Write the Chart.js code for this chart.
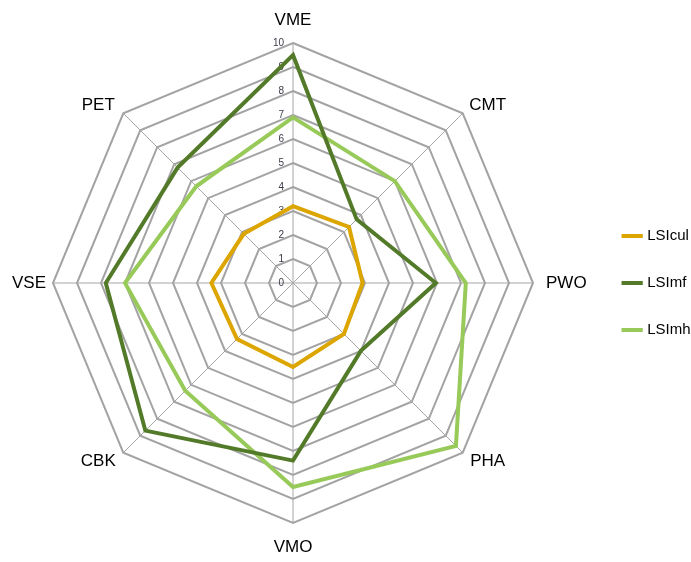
<!DOCTYPE html>
<html>
<head>
<meta charset="utf-8">
<script src="https://cdn.jsdelivr.net/npm/chart.js@4/dist/chart.umd.min.js"></script>
<style>
  html, body { margin: 0; padding: 0; background: #fff; }
  #wrap { width: 691px; height: 562px; }
</style>
</head>
<body>
<div id="wrap"><canvas id="radar"></canvas></div>
<script>
const categorias = ['VME', 'CMT', 'PWO', 'PHA', 'VMO', 'CBK', 'VSE', 'PET']
const lsiCul = [3.2, 3.3, 2.9, 3.0, 3.5, 3.3, 3.4, 2.9]
const lsiMf = [9.5, 3.75, 5.95, 4.0, 7.4, 8.7, 7.8, 6.8]
const lsiMh = [6.9, 6.0, 7.2, 9.6, 8.5, 6.35, 7.0, 5.7]
const escalaMin = 0
const escalaMax = 10

const fonte = '"Liberation Sans", Arial, sans-serif'

// rótulos da escala à esquerda do eixo vertical + rótulos das categorias estilo Excel
const rotulos = {
  id: 'rotulos',
  beforeDatasetsDraw(chart) {
    const scale = chart.scales.r
    const ctx = chart.ctx
    ctx.save()
    ctx.font = '10px ' + fonte
    ctx.fillStyle = '#3a3a4a'
    ctx.textAlign = 'right'
    ctx.textBaseline = 'middle'
    scale.ticks.forEach(t => {
      const d = scale.getDistanceFromCenterForValue(t.value)
      const p = scale.getPointPosition(0, d)
      ctx.fillText(String(t.value), p.x - 9, p.y)
    })

    ctx.font = '17px ' + fonte
    ctx.fillStyle = '#000'
    const R = scale.drawingArea
    chart.data.labels.forEach((lab, i) => {
      const v = scale.getPointPosition(i, R)
      const dx = v.x - scale.xCenter
      const dy = v.y - scale.yCenter
      let x = v.x, y = v.y
      if (Math.abs(dx) < 1) {
        ctx.textAlign = 'center'
        y += dy < 0 ? -23 : 24
      } else if (Math.abs(dy) < 1) {
        if (dx > 0) { ctx.textAlign = 'left'; x += 13 }
        else { ctx.textAlign = 'right'; x -= 7 }
      } else {
        ctx.textAlign = 'center'
        x += dx > 0 ? 25 : -25
        y += dy > 0 ? 9 : -8
      }
      ctx.fillText(lab, x, y)
    })
    ctx.restore()
  }
}

new Chart(document.getElementById('radar'), {
  type: 'radar',
  data: {
    labels: categorias,
    datasets: [
      { label: 'LSIcul', data: lsiCul, borderColor: '#DDA500', backgroundColor: '#DDA500', borderWidth: 4 },
      { label: 'LSImf', data: lsiMf, borderColor: '#527A29', backgroundColor: '#527A29', borderWidth: 4 },
      { label: 'LSImh', data: lsiMh, borderColor: '#98CA5A', backgroundColor: '#98CA5A', borderWidth: 4 }
    ]
  },
  options: {
    responsive: true,
    maintainAspectRatio: false,
    animation: false,
    elements: {
      line: { fill: false, tension: 0, borderJoinStyle: 'miter' },
      point: { radius: 0, hoverRadius: 0 }
    },
    layout: { padding: { left: -6, right: -9.5, top: 13, bottom: 9 } },
    scales: {
      r: {
        min: escalaMin,
        max: escalaMax,
        ticks: { stepSize: 1, display: false },
        grid: { color: '#a3a3a3', lineWidth: 2 },
        angleLines: { color: '#a6a6a6', lineWidth: 1 },
        pointLabels: {
          color: 'rgba(0,0,0,0)', // só reserva o espaço, o texto vem do plugin
          padding: 12,
          font: { family: fonte, size: 15 }
        }
      }
    },
    plugins: {
      legend: {
        position: 'right',
        labels: {
          usePointStyle: true,
          pointStyle: 'line',
          boxWidth: 16,
          padding: 32,
          color: '#000',
          font: { family: fonte, size: 15 }
        }
      },
      tooltip: { enabled: false }
    }
  },
  plugins: [rotulos]
})
</script>
</body>
</html>
